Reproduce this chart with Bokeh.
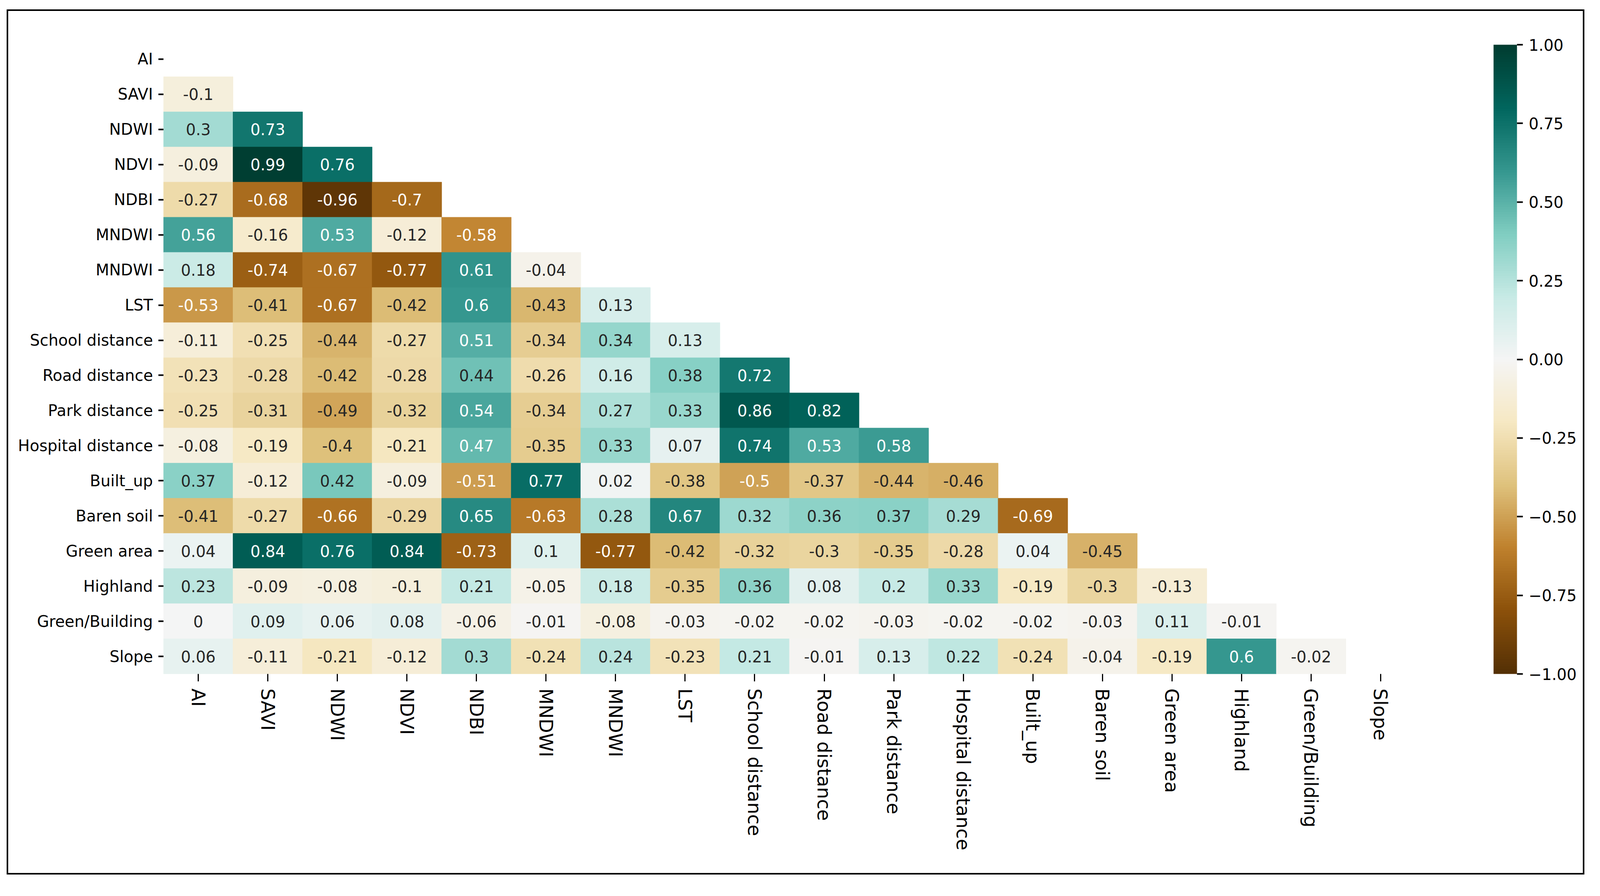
import numpy as np
from bokeh.plotting import figure
from bokeh.models import (ColumnDataSource, LinearColorMapper, ColorBar, FixedTicker, Range1d)
from bokeh.embed import file_html
from bokeh.resources import INLINE
from bokeh.core.properties import value

labels = ["AI", "SAVI", "NDWI", "NDVI", "NDBI", "MNDWI", "MNDWI", "LST",
          "School distance", "Road distance", "Park distance", "Hospital distance",
          "Built_up", "Baren soil", "Green area", "Highland", "Green/Building", "Slope"]

# lower-triangle correlations, row by row (columns AI ... up to the row before the diagonal)
row_savi = [-0.1]
row_ndwi = [0.3, 0.73]
row_ndvi = [-0.09, 0.99, 0.76]
row_ndbi = [-0.27, -0.68, -0.96, -0.7]
row_mndwi1 = [0.56, -0.16, 0.53, -0.12, -0.58]
row_mndwi2 = [0.18, -0.74, -0.67, -0.77, 0.61, -0.04]
row_lst = [-0.53, -0.41, -0.67, -0.42, 0.6, -0.43, 0.13]
row_school = [-0.11, -0.25, -0.44, -0.27, 0.51, -0.34, 0.34, 0.13]
row_road = [-0.23, -0.28, -0.42, -0.28, 0.44, -0.26, 0.16, 0.38, 0.72]
row_park = [-0.25, -0.31, -0.49, -0.32, 0.54, -0.34, 0.27, 0.33, 0.86, 0.82]
row_hospital = [-0.08, -0.19, -0.4, -0.21, 0.47, -0.35, 0.33, 0.07, 0.74, 0.53, 0.58]
row_builtup = [0.37, -0.12, 0.42, -0.09, -0.51, 0.77, 0.02, -0.38, -0.5, -0.37, -0.44, -0.46]
row_baren = [-0.41, -0.27, -0.66, -0.29, 0.65, -0.63, 0.28, 0.67, 0.32, 0.36, 0.37, 0.29, -0.69]
row_green = [0.04, 0.84, 0.76, 0.84, -0.73, 0.1, -0.77, -0.42, -0.32, -0.3, -0.35, -0.28, 0.04, -0.45]
row_highland = [0.23, -0.09, -0.08, -0.1, 0.21, -0.05, 0.18, -0.35, 0.36, 0.08, 0.2, 0.33, -0.19, -0.3, -0.13]
row_greenbuild = [0, 0.09, 0.06, 0.08, -0.06, -0.01, -0.08, -0.03, -0.02, -0.02, -0.03, -0.02, -0.02, -0.03, 0.11, -0.01]
row_slope = [0.06, -0.11, -0.21, -0.12, 0.3, -0.24, 0.24, -0.23, 0.21, -0.01, 0.13, 0.22, -0.24, -0.04, -0.19, 0.6, -0.02]

lower_rows = [row_savi, row_ndwi, row_ndvi, row_ndbi, row_mndwi1, row_mndwi2, row_lst,
              row_school, row_road, row_park, row_hospital, row_builtup, row_baren,
              row_green, row_highland, row_greenbuild, row_slope]

cbar_ticks = [-1.0, -0.75, -0.5, -0.25, 0.0, 0.25, 0.5, 0.75, 1.0]
cbar_tick_labels = ["\u22121.00", "\u22120.75", "\u22120.50", "\u22120.25", "0.00",
                    "0.25", "0.50", "0.75", "1.00"]

# BrBG anchor colours (brown -> teal)
brbg_anchors = ["#543005", "#8c510a", "#bf812d", "#dfc27d", "#f6e8c3", "#f5f5f5",
                "#c7eae5", "#80cdc1", "#35978f", "#01665e", "#003c30"]

def hex2rgb(h):
    return np.array([int(h[i:i + 2], 16) for i in (1, 3, 5)], dtype=float) / 255.0

anc = np.array([hex2rgb(h) for h in brbg_anchors])
apos = np.linspace(0, 1, len(brbg_anchors))
N = 256
tt = np.linspace(0, 1, N)
pal_rgb = np.stack([np.interp(tt, apos, anc[:, c]) for c in range(3)], axis=1)
palette = ["#%02x%02x%02x" % tuple(int(round(v * 255)) for v in rgb) for rgb in pal_rgb]

def lookup(v):
    k = int((v + 1) / 2 * N)
    return pal_rgb[min(max(k, 0), N - 1)]

def luminance(rgb):
    c = np.where(rgb <= 0.03928, rgb / 12.92, ((rgb + 0.055) / 1.055) ** 2.4)
    return 0.2126 * c[0] + 0.7152 * c[1] + 0.0722 * c[2]

xs, ys, vs, txt, tcol = [], [], [], [], []
for i, row in enumerate(lower_rows, start=1):
    for j, v in enumerate(row):
        xs.append(j)
        ys.append(i)
        vs.append(v)
        txt.append(f"{v:g}")
        tcol.append("#ffffff" if luminance(lookup(v)) <= 0.408 else "#262626")

src = ColumnDataSource(dict(x=xs, y=ys, v=vs, label=txt, tcolor=tcol))

mapper = LinearColorMapper(palette=palette, low=-1, high=1)

# canvas = area inside the outer black border
W, H = 4031, 2207
FL, FT = 397, 78
FW, FH = 3197, 1611
FONT = "40px"
XFONT = "48px"

p = figure(width=W, height=H, output_backend="svg", toolbar_location=None,
           x_range=Range1d(-0.5, len(labels) - 0.5), y_range=Range1d(len(labels) - 0.5, -0.5),
           min_border_left=FL, min_border_top=FT,
           min_border_right=W - FL - FW, min_border_bottom=H - FT - FH,
           margin=(24, 0, 0, 17),
           styles={"border": "4px solid black", "box-sizing": "content-box"})
p.outline_line_color = None
p.grid.visible = False
p.background_fill_color = "white"
p.border_fill_color = "white"

p.rect(x="x", y="y", width=1, height=1, source=src,
       fill_color={"field": "v", "transform": mapper},
       line_color={"field": "v", "transform": mapper}, line_width=1)
p.text(x="x", y="y", text="label", source=src, text_color="tcolor",
       text_align="center", text_baseline="middle",
       text_font=value("DejaVu Sans"), text_font_size=value(FONT))

for ax in (p.xaxis, p.yaxis):
    ax.ticker = FixedTicker(ticks=list(range(len(labels))))
    ax.major_label_overrides = {i: lab for i, lab in enumerate(labels)}
    ax.axis_line_color = None
    ax.major_tick_in = 0
    ax.major_tick_line_color = "black"
    ax.minor_tick_line_color = None
    ax.major_label_text_font = "DejaVu Sans"
    ax.major_label_text_color = "black"
p.xaxis.major_label_text_font_size = XFONT
p.yaxis.major_label_text_font_size = FONT
p.xaxis.major_tick_out = 19
p.xaxis.major_tick_line_width = 3
p.xaxis.major_label_standoff = 18
p.xaxis.major_label_orientation = "vertical"
p.yaxis.major_tick_out = 13
p.yaxis.major_tick_line_width = 4
p.yaxis.major_label_standoff = 14

cbar = ColorBar(color_mapper=mapper, width=60, height=FH,
                ticker=FixedTicker(ticks=cbar_ticks),
                major_label_overrides={t: l for t, l in zip(cbar_ticks, cbar_tick_labels)},
                major_label_text_font="DejaVu Sans", major_label_text_font_size=FONT,
                major_label_text_color="black",
                major_tick_in=0, major_tick_out=15, major_tick_line_color="black",
                major_tick_line_width=4, minor_tick_line_color=None,
                label_standoff=15, bar_line_color=None, border_line_color=None,
                background_fill_color=None, padding=0, margin=0,
                location=(200, 0))
p.add_layout(cbar, "right")

open("out.html", "w").write(file_html(p, INLINE))
